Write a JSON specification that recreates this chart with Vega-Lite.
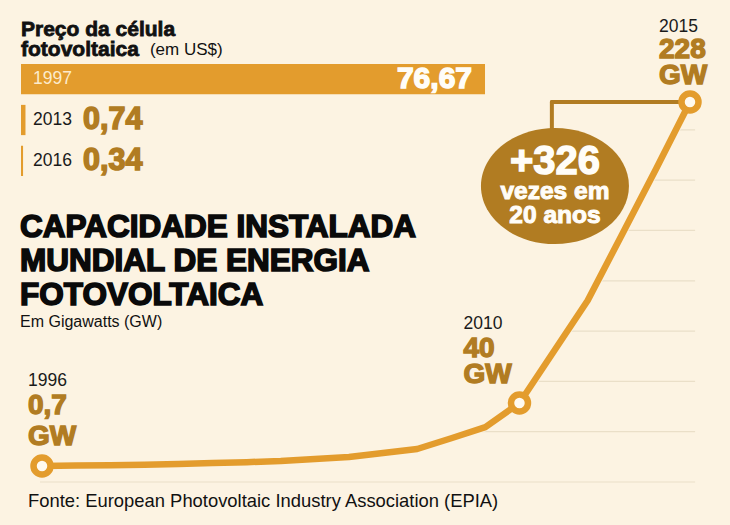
{
  "$schema": "https://vega.github.io/schema/vega-lite/v6.json",
  "width": 730,
  "height": 525,
  "padding": 0,
  "autosize": {"type": "none"},
  "background": "#FCF3E2",
  "config": {
    "view": {"stroke": null},
    "locale": {"number": {"decimal": ",", "thousands": ".", "grouping": [3], "currency": ["US$ ", ""]}},
    "text": {"font": "Liberation Sans"}
  },
  "datasets": {
    "capacidade": [
      {"ano": 1996, "gw": 0.7},
      {"ano": 1997, "gw": 1.0},
      {"ano": 1998, "gw": 1.2},
      {"ano": 1999, "gw": 1.5},
      {"ano": 2000, "gw": 2.0},
      {"ano": 2001, "gw": 2.5},
      {"ano": 2002, "gw": 3.1},
      {"ano": 2003, "gw": 3.8},
      {"ano": 2004, "gw": 5.1},
      {"ano": 2005, "gw": 6.3},
      {"ano": 2006, "gw": 8.8},
      {"ano": 2007, "gw": 11.3},
      {"ano": 2008, "gw": 18},
      {"ano": 2009, "gw": 25},
      {"ano": 2010, "gw": 40},
      {"ano": 2011, "gw": 72},
      {"ano": 2012, "gw": 104},
      {"ano": 2013, "gw": 145},
      {"ano": 2014, "gw": 186},
      {"ano": 2015, "gw": 228}
    ],
    "preco": [
      {"ano": "1997", "usd": 76.67},
      {"ano": "2013", "usd": 0.74},
      {"ano": "2016", "usd": 0.34}
    ],
    "grade": [
      {"gw": -9.3}, {"gw": 22.1}, {"gw": 53.5}, {"gw": 84.9},
      {"gw": 116.3}, {"gw": 147.8}, {"gw": 179.2}, {"gw": 210.6}
    ]
  },
  "resolve": {"scale": {"x": "independent", "y": "independent"}},
  "layer": [
    {
      "layer": [
        {
          "data": {"name": "grade"},
          "mark": {"type": "rule", "color": "#EADFC8", "strokeWidth": 1.2},
          "encoding": {
            "y": {"field": "gw", "type": "quantitative", "scale": {"domain": [-36.16, 291.7], "nice": false, "zero": false}, "axis": null},
            "x": {"datum": 1995.94, "type": "quantitative", "scale": {"domain": [1994.768, 2016.173], "nice": false, "zero": false}, "axis": null},
            "x2": {"datum": 2015.15}
          }
        },
        {
          "data": {"name": "capacidade"},
          "mark": {"type": "area", "fill": "#FCF3E2", "stroke": "#FCF3E2", "strokeWidth": 8},
          "encoding": {
            "x": {"field": "ano", "type": "quantitative"},
            "y": {"field": "gw", "type": "quantitative"},
            "y2": {"datum": 291.7}
          }
        },
        {
          "data": {"name": "capacidade"},
          "mark": {"type": "line", "color": "#E39C2D", "strokeWidth": 6.5, "strokeJoin": "round"},
          "encoding": {
            "x": {"field": "ano", "type": "quantitative"},
            "y": {"field": "gw", "type": "quantitative"}
          }
        },
        {
          "data": {"values": [{}]},
          "mark": {"type": "rule", "color": "#B17C22", "strokeWidth": 4, "strokeCap": "round"},
          "encoding": {"x": {"datum": 2010.95}, "y": {"datum": 175.5}, "y2": {"datum": 228}}
        },
        {
          "data": {"values": [{}]},
          "mark": {"type": "rule", "color": "#B17C22", "strokeWidth": 4, "strokeCap": "round"},
          "encoding": {"x": {"datum": 2010.95}, "x2": {"datum": 2015}, "y": {"datum": 228}}
        },
        {
          "data": {"name": "capacidade"},
          "transform": [{"filter": {"field": "ano", "oneOf": [1996, 2010, 2015]}}],
          "mark": {"type": "point", "shape": "circle", "filled": true, "fill": "#FFFAF0", "stroke": "#E39C2D", "strokeWidth": 6.5, "size": 289, "opacity": 1},
          "encoding": {
            "x": {"field": "ano", "type": "quantitative"},
            "y": {"field": "gw", "type": "quantitative"}
          }
        },
        {
          "data": {"values": [{}]},
          "mark": {"type": "point", "shape": "M-1,0A1,0.784,0,1,1,1,0A1,0.784,0,1,1,-1,0Z", "filled": true, "fill": "#B17C22", "size": 21904, "opacity": 1, "strokeWidth": 0},
          "encoding": {"x": {"datum": 2011.04}, "y": {"datum": 175.5}}
        },
        {
          "data": {"values": [{}]},
          "mark": {"type": "text", "text": "+326", "fontSize": 40, "fontWeight": "bold", "color": "#FFFDF8", "stroke": "#FFFDF8", "strokeWidth": 1.4, "align": "center", "baseline": "alphabetic", "dy": -12},
          "encoding": {"x": {"datum": 2011.04}, "y": {"datum": 175.5}}
        },
        {
          "data": {"values": [{}]},
          "mark": {"type": "text", "text": ["vezes em", "20 anos"], "fontSize": 24.5, "lineHeight": 24, "fontWeight": "bold", "color": "#FFFDF8", "stroke": "#FFFDF8", "strokeWidth": 1, "align": "center", "baseline": "alphabetic", "dy": 13},
          "encoding": {"x": {"datum": 2011.04}, "y": {"datum": 175.5}}
        },
        {
          "data": {"name": "capacidade"},
          "transform": [{"filter": "datum.ano == 1996"}],
          "mark": {"type": "text", "align": "left", "baseline": "alphabetic", "dx": -14, "dy": -80, "fontSize": 17.5, "color": "#1A1A1A"},
          "encoding": {"x": {"field": "ano", "type": "quantitative"}, "y": {"field": "gw", "type": "quantitative"}, "text": {"field": "ano", "type": "nominal"}}
        },
        {
          "data": {"name": "capacidade"},
          "transform": [{"filter": "datum.ano == 1996"}],
          "mark": {"type": "text", "align": "left", "baseline": "alphabetic", "dx": -14, "dy": -52, "fontSize": 28, "fontWeight": "bold", "color": "#B17C22", "stroke": "#B17C22", "strokeWidth": 1.4},
          "encoding": {"x": {"field": "ano", "type": "quantitative"}, "y": {"field": "gw", "type": "quantitative"}, "text": {"field": "gw", "type": "quantitative", "format": "~g"}}
        },
        {
          "data": {"name": "capacidade"},
          "transform": [{"filter": "datum.ano == 1996"}],
          "mark": {"type": "text", "text": "GW", "align": "left", "baseline": "alphabetic", "dx": -14, "dy": -21, "fontSize": 28, "fontWeight": "bold", "color": "#B17C22", "stroke": "#B17C22", "strokeWidth": 1.4},
          "encoding": {"x": {"field": "ano", "type": "quantitative"}, "y": {"field": "gw", "type": "quantitative"}}
        },
        {
          "data": {"name": "capacidade"},
          "transform": [{"filter": "datum.ano == 2010"}],
          "mark": {"type": "text", "align": "left", "baseline": "alphabetic", "dx": -56, "dy": -74, "fontSize": 17.5, "color": "#1A1A1A"},
          "encoding": {"x": {"field": "ano", "type": "quantitative"}, "y": {"field": "gw", "type": "quantitative"}, "text": {"field": "ano", "type": "nominal"}}
        },
        {
          "data": {"name": "capacidade"},
          "transform": [{"filter": "datum.ano == 2010"}],
          "mark": {"type": "text", "align": "left", "baseline": "alphabetic", "dx": -56, "dy": -46, "fontSize": 28, "fontWeight": "bold", "color": "#B17C22", "stroke": "#B17C22", "strokeWidth": 1.4},
          "encoding": {"x": {"field": "ano", "type": "quantitative"}, "y": {"field": "gw", "type": "quantitative"}, "text": {"field": "gw", "type": "quantitative", "format": "~g"}}
        },
        {
          "data": {"name": "capacidade"},
          "transform": [{"filter": "datum.ano == 2010"}],
          "mark": {"type": "text", "text": "GW", "align": "left", "baseline": "alphabetic", "dx": -56, "dy": -20, "fontSize": 28, "fontWeight": "bold", "color": "#B17C22", "stroke": "#B17C22", "strokeWidth": 1.4},
          "encoding": {"x": {"field": "ano", "type": "quantitative"}, "y": {"field": "gw", "type": "quantitative"}}
        },
        {
          "data": {"name": "capacidade"},
          "transform": [{"filter": "datum.ano == 2015"}],
          "mark": {"type": "text", "align": "left", "baseline": "alphabetic", "dx": -31, "dy": -70, "fontSize": 17.5, "color": "#1A1A1A"},
          "encoding": {"x": {"field": "ano", "type": "quantitative"}, "y": {"field": "gw", "type": "quantitative"}, "text": {"field": "ano", "type": "nominal"}}
        },
        {
          "data": {"name": "capacidade"},
          "transform": [{"filter": "datum.ano == 2015"}],
          "mark": {"type": "text", "align": "left", "baseline": "alphabetic", "dx": -31, "dy": -44, "fontSize": 28, "fontWeight": "bold", "color": "#B17C22", "stroke": "#B17C22", "strokeWidth": 1.4},
          "encoding": {"x": {"field": "ano", "type": "quantitative"}, "y": {"field": "gw", "type": "quantitative"}, "text": {"field": "gw", "type": "quantitative", "format": "~g"}}
        },
        {
          "data": {"name": "capacidade"},
          "transform": [{"filter": "datum.ano == 2015"}],
          "mark": {"type": "text", "text": "GW", "align": "left", "baseline": "alphabetic", "dx": -31, "dy": -18, "fontSize": 28, "fontWeight": "bold", "color": "#B17C22", "stroke": "#B17C22", "strokeWidth": 1.4},
          "encoding": {"x": {"field": "ano", "type": "quantitative"}, "y": {"field": "gw", "type": "quantitative"}}
        },
        {
          "data": {"values": [{}]},
          "mark": {"type": "text", "text": ["Preço da célula", "fotovoltaica"], "lineHeight": 19.5, "align": "left", "baseline": "alphabetic", "fontSize": 21, "fontWeight": "bold", "color": "#111111", "stroke": "#111111", "strokeWidth": 0.8},
          "encoding": {"x": {"datum": 1995.384}, "y": {"datum": 269.2}}
        },
        {
          "data": {"values": [{}]},
          "mark": {"type": "text", "text": "(em US$)", "align": "left", "baseline": "alphabetic", "fontSize": 17, "color": "#111111"},
          "encoding": {"x": {"datum": 1999.165}, "y": {"datum": 257.3}}
        },
        {
          "data": {"values": [{}]},
          "mark": {"type": "text", "text": ["CAPACIDADE INSTALADA", "MUNDIAL DE ENERGIA", "FOTOVOLTAICA"], "lineHeight": 34, "align": "left", "baseline": "alphabetic", "fontSize": 31.5, "fontWeight": "bold", "color": "#0A0A0A", "stroke": "#0A0A0A", "strokeWidth": 1.6},
          "encoding": {"x": {"datum": 1995.354}, "y": {"datum": 143.7}}
        },
        {
          "data": {"values": [{}]},
          "mark": {"type": "text", "text": "Em Gigawatts (GW)", "align": "left", "baseline": "alphabetic", "fontSize": 16, "color": "#111111"},
          "encoding": {"x": {"datum": 1995.354}, "y": {"datum": 87.5}}
        },
        {
          "data": {"values": [{}]},
          "mark": {"type": "text", "text": "Fonte: European Photovoltaic Industry Association (EPIA)", "align": "left", "baseline": "alphabetic", "fontSize": 18.4, "color": "#111111"},
          "encoding": {"x": {"datum": 1995.589}, "y": {"datum": -24.9}}
        }
      ]
    },
    {
      "data": {"name": "preco"},
      "layer": [
        {
          "mark": {"type": "bar", "color": "#E39C2D"},
          "encoding": {
            "y": {"field": "ano", "type": "nominal", "scale": {"domain": ["1997", "2013", "2016"], "range": [64, 176], "paddingInner": 0.26, "paddingOuter": 0}, "axis": null},
            "x": {"field": "usd", "type": "quantitative", "scale": {"domain": [-3.47, 117.15], "nice": false}, "axis": null}
          }
        },
        {
          "mark": {"type": "text", "align": "left", "baseline": "middle", "dx": 12, "fontSize": 17.5},
          "encoding": {
            "y": {"field": "ano", "type": "nominal"},
            "x": {"datum": 0},
            "text": {"field": "ano", "type": "nominal"},
            "color": {"condition": {"test": "datum.usd > 10", "value": "#FCEBCB"}, "value": "#1A1A1A"}
          }
        },
        {
          "transform": [{"filter": "datum.usd > 10"}],
          "mark": {"type": "text", "align": "right", "baseline": "middle", "dx": -13, "fontSize": 30, "fontWeight": "bold", "color": "#FFFDF8", "stroke": "#FFFDF8", "strokeWidth": 1.5},
          "encoding": {
            "y": {"field": "ano", "type": "nominal"},
            "x": {"field": "usd", "type": "quantitative"},
            "text": {"field": "usd", "type": "quantitative", "format": ",.2f"}
          }
        },
        {
          "transform": [{"filter": "datum.usd < 10"}],
          "mark": {"type": "text", "align": "left", "baseline": "middle", "dx": 62, "fontSize": 30.5, "fontWeight": "bold", "color": "#B17C22", "stroke": "#B17C22", "strokeWidth": 1.5},
          "encoding": {
            "y": {"field": "ano", "type": "nominal"},
            "x": {"datum": 0},
            "text": {"field": "usd", "type": "quantitative", "format": ",.2f"}
          }
        }
      ]
    }
  ]
}
